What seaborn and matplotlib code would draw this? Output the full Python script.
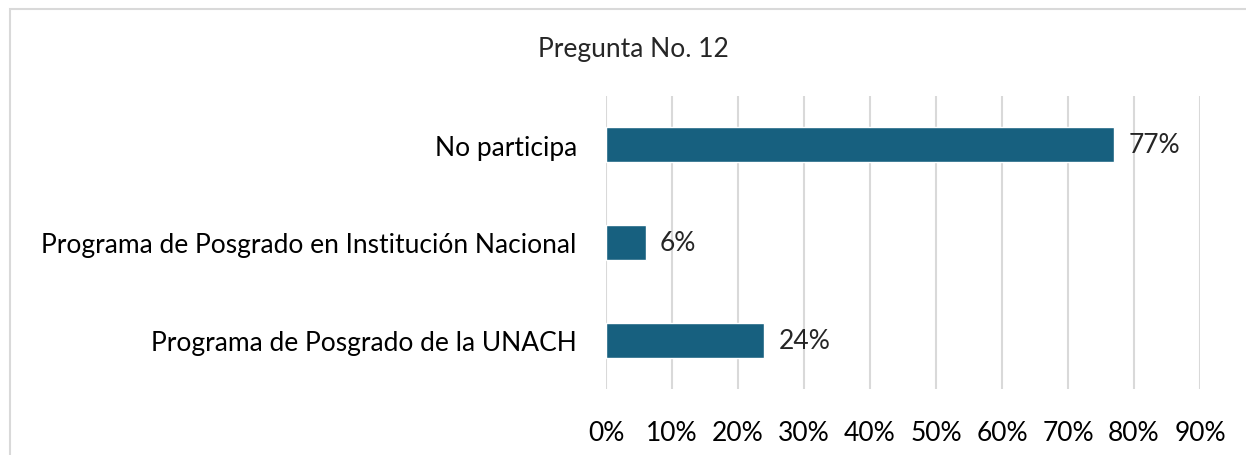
import matplotlib
matplotlib.use("Agg")
import matplotlib.pyplot as plt
import seaborn as sns
import pandas as pd
from matplotlib.patches import Rectangle

# ------------------------------
# Data
# ------------------------------
categories = ["No participa",
              "Programa de Posgrado en Institución Nacional",
              "Programa de Posgrado de la UNACH"]
values = [77, 6, 24]
value_labels = ["77%", "6%", "24%"]
x_ticks = [0, 10, 20, 30, 40, 50, 60, 70, 80, 90]
title = "Pregunta No. 12"

df = pd.DataFrame({"Categoria": categories, "Valor": values})

sns.set_style("white")
plt.rcParams["font.family"] = ["Lato", "DejaVu Sans"]

fig = plt.figure(figsize=(12.46, 4.56), dpi=100)
ax = fig.add_axes([606 / 1246, 1 - 390 / 456, (1200 - 606) / 1246, (390 - 97) / 456])

sns.barplot(data=df, x="Valor", y="Categoria", color="#17607f",
            width=0.36, saturation=1, ax=ax, zorder=3)

fs = 19
ax.set_xlim(0, 90)
ax.set_ylim(2.5, -0.5)
ax.set_xticks(x_ticks)
ax.set_xticklabels([f"{t}%" for t in x_ticks])
ax.set_xlabel("")
ax.set_ylabel("")
ax.grid(axis="x", color="#d9d9d9", linewidth=1.5, zorder=0)
ax.tick_params(axis="both", length=0, labelsize=fs, colors="black")
ax.tick_params(axis="x", pad=22)
ax.tick_params(axis="y", pad=21)
for s in ax.spines.values():
    s.set_visible(False)

for i, (v, lab) in enumerate(zip(values, value_labels)):
    ax.text(v + 2.2, i, lab, va="center", ha="left", fontsize=fs)

fig.text(633 / 1246, 1 - 50 / 456, title, ha="center", va="center", fontsize=fs)

# chart border
fig.patches.append(Rectangle((10 / 1246, -0.1), 1.2, 1 - 10 / 456 + 0.1,
                             transform=fig.transFigure, fill=False,
                             edgecolor="#d9d9d9", linewidth=1.5))

fig.savefig("out.png", dpi=100)
